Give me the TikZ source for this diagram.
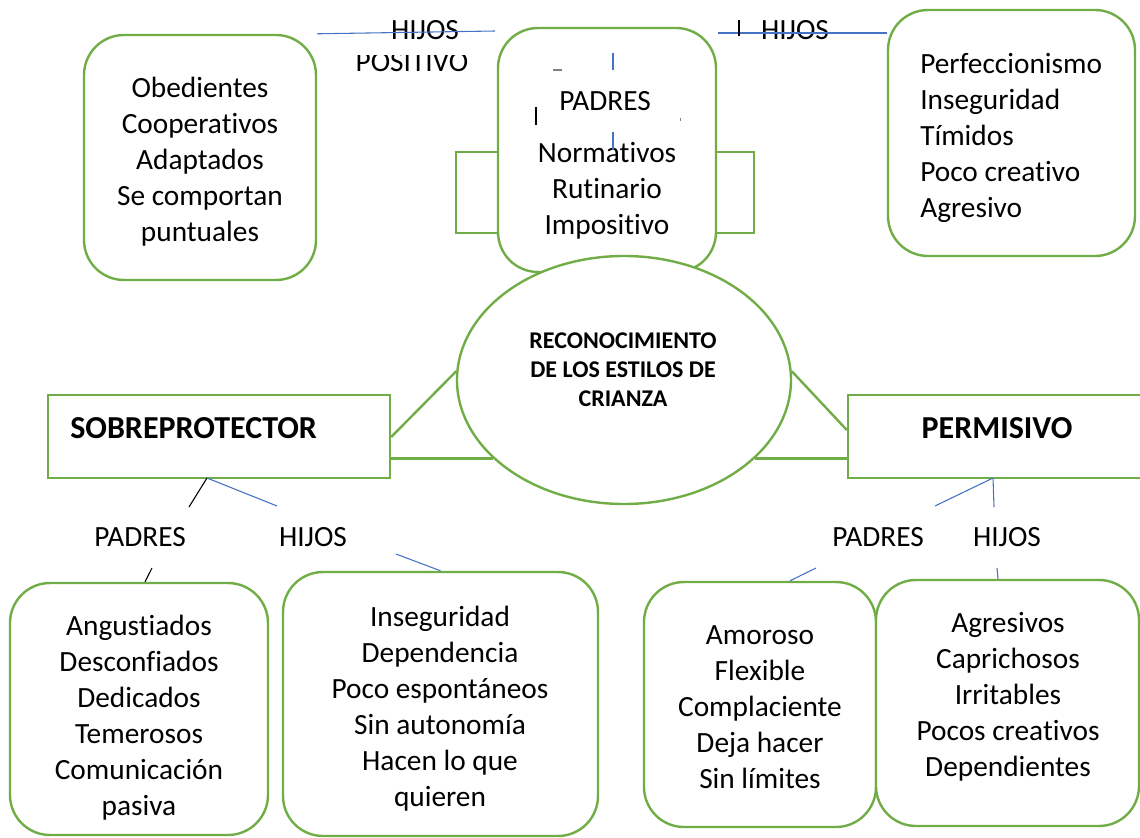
\documentclass[tikz,border=0pt]{standalone}
\usepackage{fontspec}
\setmainfont{Carlito}[Ligatures=NoCommon]
\usetikzlibrary{shapes.geometric,fit,calc,backgrounds}
\definecolor{grn}{HTML}{70AD47}
\definecolor{blu}{HTML}{4472C4}
\tikzset{
  rbox/.style={draw=grn, line width=1.8pt, rounded corners=30pt, fill=white, inner sep=0pt},
  sbox/.style={draw=grn, line width=1.8pt, fill=white, inner sep=0pt},
  txt/.style={align=center, font=\fontsize{22}{27}\selectfont, inner sep=0pt},
  ltxt/.style={align=left, font=\fontsize{22}{27}\selectfont, inner sep=0pt},
  etxt/.style={align=center, font=\bfseries\fontsize{18}{21.75}\selectfont, inner sep=0pt},
  htxt/.style={font=\bfseries\fontsize{24}{29}\selectfont, inner sep=0pt},
  bline/.style={draw=blu, line width=0.8pt},
  kline/.style={draw=black, line width=0.8pt},
  gline/.style={draw=grn, line width=1.8pt}
}
\begin{document}
\begin{tikzpicture}[x=0.75pt,y=-0.75pt]
\useasboundingbox (0,0) rectangle (1140,838);
\clip (0,0) rectangle (1140,838);

% boxes
\node[rbox, fit={(84,35) (316,280)}] (tl) {};
\node[rbox, fit={(498,28) (716,272)}] (tc) {};
\node[rbox, fit={(888,10) (1135,256)}] (tr) {};
\node[ellipse, draw=grn, line width=1.8pt, fill=white, inner sep=0pt,
      minimum width=250.5pt, minimum height=186pt] (ell) at (624,380) {};
\node[sbox, fit={(48,395) (390,478)}] (sob) {};
\node[sbox, fit={(848,395) (1150,478)}] (perm) {};
\node[rbox, fit={(10,583) (268,835)}] (bl1) {};
\node[rbox, fit={(283,572) (598,836)}] (bl2) {};
\node[rbox, fit={(644,582) (876,827)}] (br1) {};
\node[rbox, fit={(876,580) (1139,826)}] (br2) {};

% texts
\node[txt] (tlt) at (200,162) {Obedientes\\Cooperativos\\Adaptados\\Se comportan\\puntuales};
\node[txt] (tcp) at (605,101) {PADRES};
\node[txt] (tct) at (607,190.5) {Normativos\\Rutinario\\Impositivo};
\node[ltxt, anchor=west] (trt) at (920,137.5) {Perfeccionismo\\Inseguridad\\Tímidos\\Poco creativo\\Agresivo};
\node[etxt] (elt) at (623,370) {RECONOCIMIENTO\\DE LOS ESTILOS DE\\CRIANZA};
\node[htxt, anchor=west] (sobt) at (70,428) {SOBREPROTECTOR};
\node[htxt] (permt) at (997,428) {PERMISIVO};
\node[txt] (bl1t) at (139,718) {Angustiados\\Desconfiados\\Dedicados\\Temerosos\\Comunicación\\pasiva};
\node[txt] (bl2t) at (440,708.5) {Inseguridad\\Dependencia\\Poco espontáneos\\Sin autonomía\\Hacen lo que\\quieren};
\node[txt] (br1t) at (760,707.5) {Amoroso\\Flexible\\Complaciente\\Deja hacer\\Sin límites};
\node[txt] (br2t) at (1008,697) {Agresivos\\Caprichosos\\Irritables\\Pocos creativos\\Dependientes};

% labels
\node[txt] (h1) at (425,30) {HIJOS};
\begin{scope}
\clip (300,56) rectangle (500,90);
\node[txt] (pos) at (412,62) {POSITIVO};
\end{scope}
\node[txt] (h2) at (795,30) {HIJOS};
\node[txt] (p3) at (140,537) {PADRES};
\node[txt] (h3) at (313,537) {HIJOS};
\node[txt] (p4) at (878,537) {PADRES};
\node[txt] (h4) at (1007,537) {HIJOS};

% free ends
\coordinate (c1) at (495,31);
\coordinate (c2) at (718,33);
\coordinate (s0) at (207,478);
\coordinate (s1) at (189,507);
\coordinate (s2) at (277,506);
\coordinate (s3) at (152,568);
\coordinate (s4) at (396,554);
\coordinate (q0) at (993,478);
\coordinate (q1) at (935,506);
\coordinate (q2) at (994,507);
\coordinate (q3) at (816,568);
\coordinate (q4) at (997,568);

\begin{pgfonlayer}{background}
  % side rectangles behind top center box
  \draw[gline] (456,152) rectangle (520,233);
  \draw[gline] (700,152) rectangle (754,233);
  % green connectors to the ellipse
  \draw[gline] (sob.east |- 0,437) -- (ell.177);
  \draw[gline] (ell.211 -| sob.east) -- (ell.211);
  \draw[gline] (perm.west |- 0,430) -- (ell.3);
  \draw[gline] (ell.329 -| perm.west) -- (ell.329);
\end{pgfonlayer}

% thin connectors
\draw[bline] (tl.north east) -- (c1);
\draw[bline] (c2) -- (c2 -| tr.west);
\draw[kline] (739,20) -- (739,36);
\draw[bline] (613,53) -- (613,70);
\draw[bline] (613,132) -- (613,150);
\draw[kline] (536,107) -- (536,125);
\draw[draw=gray, line width=0.8pt] (553,70) -- (562,70);
\draw[draw=gray, line width=0.6pt] (680,118) -- (680,121);

\draw[kline] (s0) -- (s1);
\draw[bline] (s0) -- (s2);
\draw[kline] (s3) -- (bl1.north -| 145,0);
\draw[bline] (s4) -- (bl2.north);
\draw[bline] (q0) -- (q1);
\draw[bline] (q0) -- (q2);
\draw[bline] (q3) -- (br1.north -| 790,0);
\draw[bline] (q4) -- (br2.north -| 998,0);
\end{tikzpicture}
\end{document}
